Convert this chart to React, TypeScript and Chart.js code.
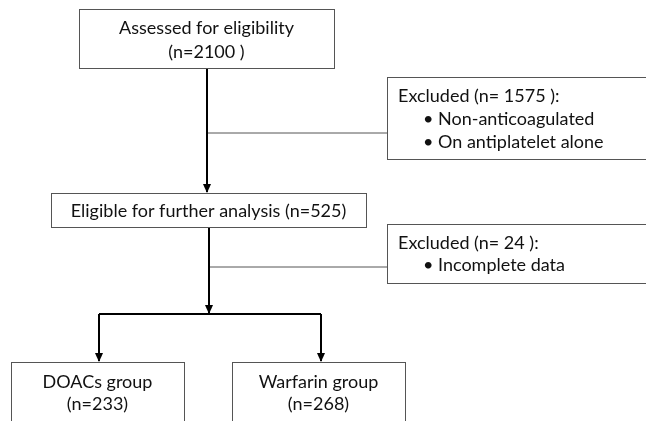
import React, { useEffect, useRef } from "react";
import { Chart, registerables } from "chart.js";
Chart.register(...registerables);

// ---- content ----
const stepLabels = ["Assessed for eligibility", "Eligible for further analysis (n=525)"];
const stepCounts = ["(n=2100 )", ""];
const excludedTitles = ["Excluded (n= 1575 ):", "Excluded (n= 24 ):"];
const excludedReasons1 = ["Non-anticoagulated", "On antiplatelet alone"];
const excludedReasons2 = ["Incomplete data"];
const groupLabels = ["DOACs group", "Warfarin group"];
const groupCounts = ["(n=233)", "(n=268)"];

// ---- layout (data units on a 646 x 421 canvas-sized scale) ----
const centeredBoxes = [
  { x0: 79, y0: 9, x1: 334, y1: 68, lines: [stepLabels[0], stepCounts[0]], ys: [28, 52] },
  { x0: 51, y0: 193, x1: 366, y1: 227, lines: [stepLabels[1]], ys: [211] },
  { x0: 11, y0: 362, x1: 184, y1: 440, lines: [groupLabels[0], groupCounts[0]], ys: [382, 404] },
  { x0: 232, y0: 362, x1: 405, y1: 440, lines: [groupLabels[1], groupCounts[1]], ys: [382, 404] },
];
const excludedBoxes = [
  { x0: 387, y0: 77, x1: 660, y1: 159, title: excludedTitles[0], titleY: 96, items: excludedReasons1, itemYs: [119, 142] },
  { x0: 387, y0: 224, x1: 660, y1: 283, title: excludedTitles[1], titleY: 243, items: excludedReasons2, itemYs: [265] },
];
const mainPaths = [
  [[207, 68], [207, 192]],
  [[209, 227], [209, 313]],
  [[99, 314], [321, 314]],
  [[99, 314], [99, 361]],
  [[321, 314], [321, 361]],
];
const branchPaths = [
  [[207, 133], [387, 133]],
  [[209, 267], [387, 267]],
];
const arrowIdx = [0, 1, 3, 4];

const FONT = "18px Lato";

export default function App() {
  const ref = useRef<HTMLCanvasElement | null>(null);
  useEffect(() => {
    const canvas = ref.current!;
    const datasets: any[] = [];
    mainPaths.forEach((p, i) =>
      datasets.push({
        data: p.map(([x, y]) => ({ x, y })),
        showLine: true,
        borderColor: "#000",
        borderWidth: 2,
        pointRadius: 0,
        arrow: arrowIdx.includes(i),
      })
    );
    branchPaths.forEach((p) =>
      datasets.push({
        data: p.map(([x, y]) => ({ x, y })),
        showLine: true,
        borderColor: "#555",
        borderWidth: 1,
        pointRadius: 0,
      })
    );
    const flowPlugin = {
      id: "flow",
      afterDatasetsDraw(chart: any) {
        const ctx = chart.ctx;
        const xs = chart.scales.x;
        const ys = chart.scales.y;
        const px = (v: number) => xs.getPixelForValue(v);
        const py = (v: number) => ys.getPixelForValue(v);
        ctx.save();
        // arrowheads
        chart.data.datasets.forEach((ds: any) => {
          if (!ds.arrow) return;
          const end = ds.data[ds.data.length - 1];
          const tx = px(end.x), ty = py(end.y);
          ctx.fillStyle = "#000";
          ctx.beginPath();
          ctx.moveTo(tx, ty + 1);
          ctx.lineTo(tx - 4, ty - 8);
          ctx.lineTo(tx + 4, ty - 8);
          ctx.closePath();
          ctx.fill();
        });
        const drawBox = (b: any) => {
          const x = px(b.x0), y = py(b.y0), w = px(b.x1) - x, h = py(b.y1) - y;
          ctx.fillStyle = "#fff";
          ctx.fillRect(x, y, w, h);
          ctx.strokeStyle = "#555";
          ctx.lineWidth = 1;
          ctx.strokeRect(Math.round(x) + 0.5, Math.round(y) + 0.5, Math.round(w), Math.round(h));
        };
        ctx.font = FONT;
        ctx.textBaseline = "middle";
        centeredBoxes.forEach((b) => {
          drawBox(b);
          ctx.fillStyle = "#111";
          ctx.textAlign = "center";
          const cx = px((b.x0 + b.x1) / 2);
          b.lines.forEach((t, i) => ctx.fillText(t, cx, py(b.ys[i])));
        });
        excludedBoxes.forEach((b) => {
          drawBox(b);
          ctx.fillStyle = "#111";
          ctx.textAlign = "left";
          ctx.fillText(b.title, px(b.x0 + 11), py(b.titleY));
          b.items.forEach((t, i) => {
            ctx.fillText("\u2022", px(b.x0 + 36), py(b.itemYs[i]));
            ctx.fillText(t, px(b.x0 + 51), py(b.itemYs[i]));
          });
        });
        ctx.restore();
      },
    };
    const chart = new Chart(canvas, {
      type: "scatter",
      data: { datasets },
      options: {
        animation: false,
        responsive: false,
        layout: { padding: 0 },
        plugins: { legend: { display: false }, tooltip: { enabled: false } },
        scales: {
          x: { type: "linear", min: 0, max: 646, display: false },
          y: { type: "linear", min: 0, max: 421, reverse: true, display: false },
        },
        elements: { line: { borderCapStyle: "butt" } },
      },
      plugins: [flowPlugin],
    } as any);
    return () => chart.destroy();
  }, []);
  return (
    <div style={{ position: "fixed", left: 0, top: 0, width: 646, height: 421, background: "#fff" }}>
      <canvas ref={ref} width={646} height={421} style={{ display: "block" }} />
    </div>
  );
}
